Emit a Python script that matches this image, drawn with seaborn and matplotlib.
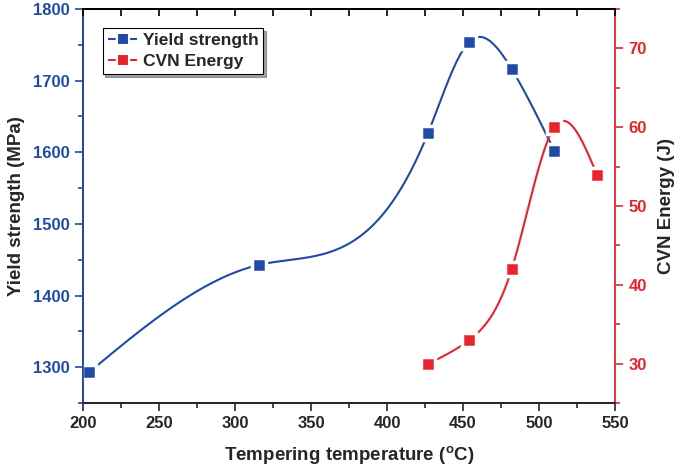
import numpy as np
import pandas as pd
import matplotlib
matplotlib.use('Agg')
import matplotlib.pyplot as plt
from matplotlib.lines import Line2D
from matplotlib.ticker import MultipleLocator, NullFormatter
import seaborn as sns

# values
temp_ys = [204, 316, 427, 454, 482, 510]
yield_mpa = [1293, 1443, 1627, 1754, 1716, 1602]
temp_cvn = [427, 454, 482, 510, 538]
cvn_j = [30, 33, 42, 60, 54]

BLUE = '#2149a6'
RED = '#e8232c'


def spline_curve(x, y, n=300):
    # natural cubic spline through the points (used for the smooth connecting line)
    x = np.asarray(x, float)
    y = np.asarray(y, float)
    k = len(x)
    h = np.diff(x)
    A = np.zeros((k, k))
    b = np.zeros(k)
    A[0, 0] = A[-1, -1] = 1
    for i in range(1, k - 1):
        A[i, i - 1] = h[i - 1]
        A[i, i] = 2 * (h[i - 1] + h[i])
        A[i, i + 1] = h[i]
        b[i] = 6 * ((y[i + 1] - y[i]) / h[i] - (y[i] - y[i - 1]) / h[i - 1])
    M = np.linalg.solve(A, b)
    xs = np.linspace(x[0], x[-1], n)
    j = np.clip(np.searchsorted(x, xs) - 1, 0, k - 2)
    t0 = x[j + 1] - xs
    t1 = xs - x[j]
    hs = h[j]
    ys = (M[j] * t0**3 + M[j + 1] * t1**3) / (6 * hs) \
        + (y[j] / hs - M[j] * hs / 6) * t0 + (y[j + 1] / hs - M[j + 1] * hs / 6) * t1
    return pd.DataFrame({'x': xs, 'y': ys})


sns.set_style('ticks')
plt.rcParams['font.family'] = ['Liberation Sans', 'DejaVu Sans']
plt.rcParams['font.weight'] = 'bold'
plt.rcParams['mathtext.default'] = 'regular'

fig, ax = plt.subplots(figsize=(6.85, 4.71), dpi=100)
fig.subplots_adjust(left=0.121, right=0.898, top=0.981, bottom=0.144)
ax2 = ax.twinx()

df_y = pd.DataFrame({'x': temp_ys, 'y': yield_mpa})
df_c = pd.DataFrame({'x': temp_cvn, 'y': cvn_j})

sns.lineplot(data=spline_curve(temp_ys, yield_mpa), x='x', y='y', ax=ax,
             color=BLUE, lw=1.5, sort=False)
ax.plot(df_y['x'], df_y['y'], ls='none', marker='s', ms=10, mfc=BLUE,
        mec='white', mew=2.5, zorder=3)

sns.lineplot(data=spline_curve(temp_cvn, cvn_j), x='x', y='y', ax=ax2,
             color=RED, lw=1.5, sort=False)
ax2.plot(df_c['x'], df_c['y'], ls='none', marker='s', ms=10, mfc=RED,
         mec='white', mew=2.5, zorder=3)
ax2.set_xlabel('')

ax.set_xlim(200, 550)
ax.set_ylim(1250, 1800)
ax2.set_ylim(25, 75)

ax.xaxis.set_major_locator(MultipleLocator(50))
ax.xaxis.set_minor_locator(MultipleLocator(25))
ax.yaxis.set_major_locator(MultipleLocator(100))
ax.yaxis.set_minor_locator(MultipleLocator(50))
ax2.yaxis.set_major_locator(MultipleLocator(10))
ax2.yaxis.set_minor_locator(MultipleLocator(5))

ax.set_xlabel('Tempering temperature ($^{o}$C)', fontsize=13.5, fontweight='bold', labelpad=9)
ax.set_ylabel('Yield strength (MPa)', fontsize=13.5, fontweight='bold', labelpad=6)
ax2.set_ylabel('CVN Energy (J)', fontsize=13.5, fontweight='bold', labelpad=8)

for s in ax.spines.values():
    s.set_linewidth(1.3)
for s in ax2.spines.values():
    s.set_linewidth(1.3)
ax.spines['left'].set_color(BLUE)
ax2.spines['left'].set_color(BLUE)
ax2.spines['right'].set_color(RED)
ax.spines['right'].set_visible(False)
ax.spines['top'].set_color('black')
ax2.spines['top'].set_color('black')

ax.tick_params(axis='x', which='both', direction='out', labelsize=12, width=1.2,
               top=False, bottom=True)
ax.tick_params(axis='x', which='major', length=6)
ax.tick_params(axis='x', which='minor', length=3.5)
ax.tick_params(axis='y', which='both', colors=BLUE, labelsize=12, width=1.2, direction='out')
ax.tick_params(axis='y', which='major', length=6)
ax.tick_params(axis='y', which='minor', length=3.5)
ax2.tick_params(axis='y', which='both', colors=RED, labelsize=12, width=1.2, direction='out')
ax2.tick_params(axis='y', which='major', length=6)
ax2.tick_params(axis='y', which='minor', length=3.5)
for lab in ax.get_xticklabels() + ax.get_yticklabels() + ax2.get_yticklabels():
    lab.set_fontweight('bold')

# top edge: inward ticks every 25, no labels
ax3 = ax.twiny()
ax3.set_xlim(ax.get_xlim())
ax3.xaxis.set_major_locator(MultipleLocator(25))
ax3.xaxis.set_major_formatter(NullFormatter())
ax3.tick_params(axis='x', which='major', direction='in', length=5, width=1.2,
                top=True, bottom=False, labeltop=False, color='black')
for name, s in ax3.spines.items():
    s.set_visible(name == 'top')
    s.set_linewidth(1.3)
    s.set_color('black')

handles = [
    Line2D([], [], color=BLUE, ls='--', lw=1.5, marker='s', ms=9, mfc=BLUE, mec='white', mew=1.5),
    Line2D([], [], color=RED, ls='--', lw=1.5, marker='s', ms=9, mfc=RED, mec='white', mew=1.5),
]
leg = ax2.legend(handles, ['Yield strength', 'CVN Energy'], loc='upper left',
                 bbox_to_anchor=(0.037, 0.952), borderaxespad=0, fancybox=False, shadow=True,
                 edgecolor='black', framealpha=1, handlelength=1.7, handletextpad=0.3,
                 borderpad=0.3, labelspacing=0.3, prop={'size': 12.5, 'weight': 'bold'})
leg.get_frame().set_linewidth(0.8)

fig.savefig('out.png', dpi=100)
